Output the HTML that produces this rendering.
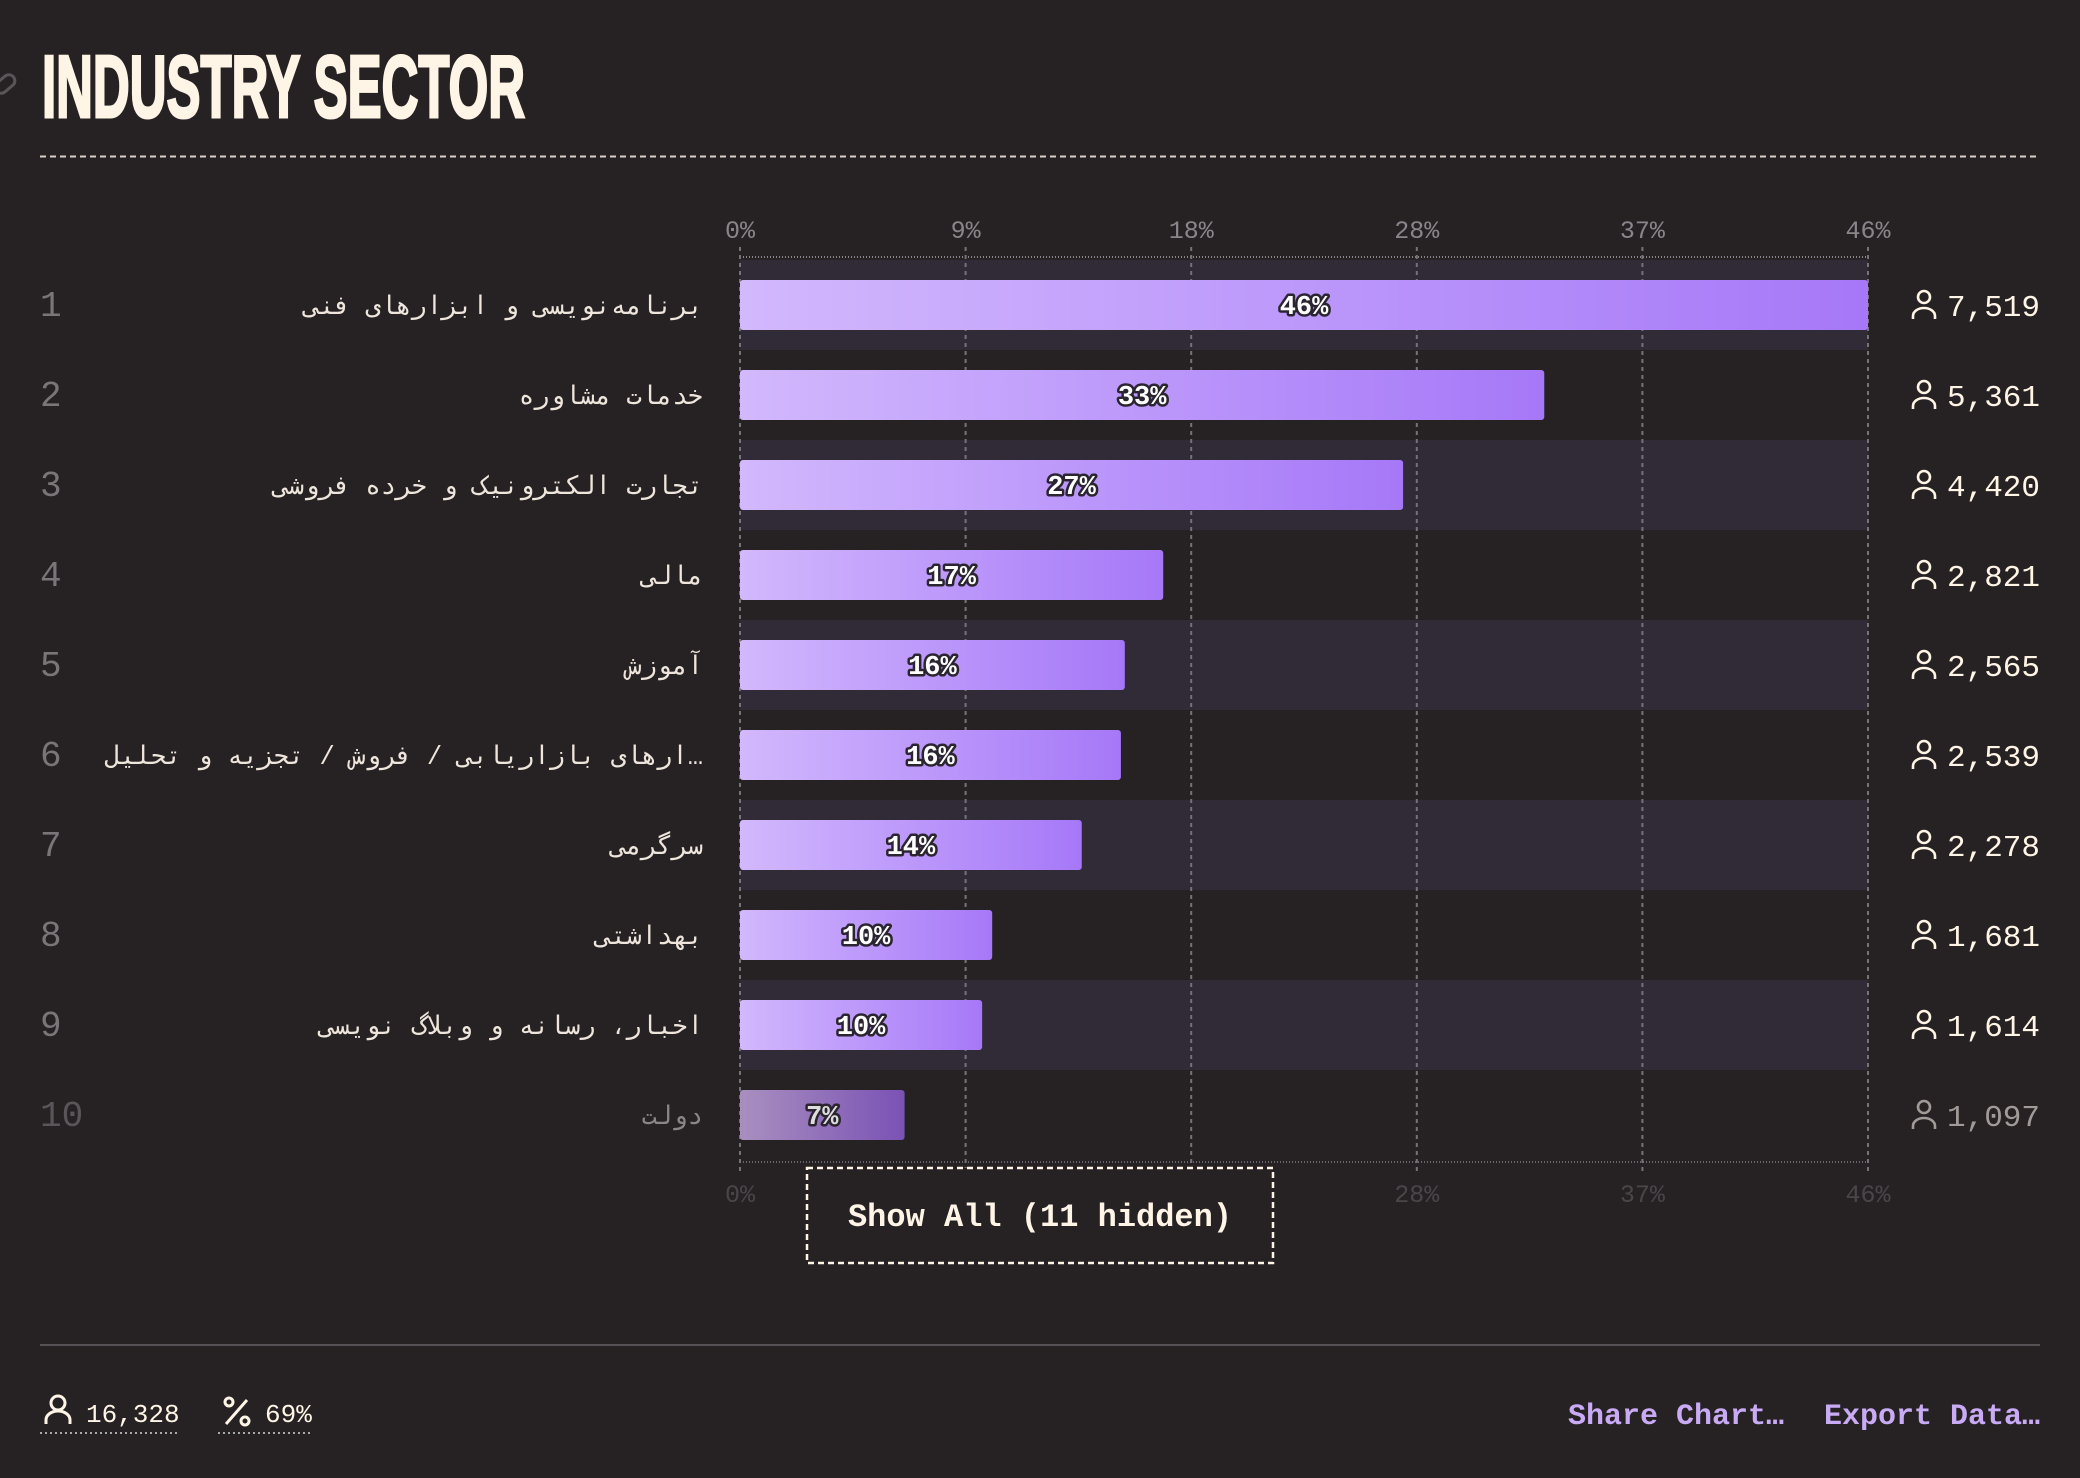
<!DOCTYPE html>
<html><head><meta charset="utf-8"><style>
html,body{margin:0;padding:0;background:#262224;}
svg{display:block;}
.mono{font-family:"Liberation Mono","DejaVu Sans Mono",monospace;}
</style></head><body>
<svg id="chart" width="2080" height="1478" viewBox="0 0 2080 1478" xmlns="http://www.w3.org/2000/svg">
<defs>
<linearGradient id="barGrad" x1="0" x2="1" y1="0" y2="0"><stop offset="0" stop-color="#d2b8fd"/><stop offset="1" stop-color="#a678f8"/></linearGradient>
<linearGradient id="barGradDim" x1="0" x2="1" y1="0" y2="0"><stop offset="0" stop-color="#a98fbf"/><stop offset="1" stop-color="#7a52b5"/></linearGradient>
</defs>
<rect x="0" y="0" width="2080" height="1478" fill="#262224"/>
<g fill="none" stroke="#5a5558" stroke-width="3"><rect x="-6" y="78" width="22" height="12" rx="6" transform="rotate(-40 5 84)"/></g>
<text x="42" y="117" font-family="'Liberation Sans Narrow','Liberation Sans',sans-serif" font-weight="bold" font-size="88" fill="#fff5e6" stroke="#fff5e6" stroke-width="3" textLength="483" lengthAdjust="spacingAndGlyphs">INDUSTRY SECTOR</text>
<line x1="40" y1="156.5" x2="2040" y2="156.5" stroke="#d8d0c8" stroke-width="2" stroke-dasharray="6,4"/>
<g id="stripes"></g>
<g id="grid"></g>
<g id="bars"></g>
<g id="rows"></g>
<g>
<rect x="807" y="1168" width="466" height="95" fill="#262224" stroke="#fff5e6" stroke-width="2.5" stroke-dasharray="6,4"/>
<text x="1040" y="1226" text-anchor="middle" class="mono" font-weight="bold" font-size="32" fill="#fff5e6">Show All (11 hidden)</text>
</g>
<line x1="40" y1="1345" x2="2040" y2="1345" stroke="#555154" stroke-width="2"/>
<g>
<circle cx="58" cy="1403" r="7" fill="none" stroke="#fff5e6" stroke-width="3"/>
<path d="M46 1424 v-4 a12 9 0 0 1 24 0 v4" fill="none" stroke="#fff5e6" stroke-width="3"/>
<text x="86" y="1422" class="mono" font-size="26" fill="#fff5e6">16,328</text>
<line x1="40" y1="1433" x2="178" y2="1433" stroke="#aaa" stroke-width="2" stroke-dasharray="2,3"/>
</g>
<g>
<circle cx="229" cy="1402" r="4" fill="none" stroke="#fff5e6" stroke-width="3"/>
<circle cx="245" cy="1421" r="4" fill="none" stroke="#fff5e6" stroke-width="3"/>
<line x1="226" y1="1424" x2="247" y2="1400" stroke="#fff5e6" stroke-width="3"/>
<text x="265" y="1422" class="mono" font-size="26" fill="#fff5e6">69%</text>
<line x1="218" y1="1433" x2="310" y2="1433" stroke="#aaa" stroke-width="2" stroke-dasharray="2,3"/>
</g>
<text x="1784" y="1424" text-anchor="end" class="mono" font-weight="bold" font-size="30" fill="#c9aaf5">Share Chart…</text>
<text x="2040" y="1424" text-anchor="end" class="mono" font-weight="bold" font-size="30" fill="#c9aaf5">Export Data…</text>
</svg>
<script>
const categories = ["برنامه‌نویسی و ابزارهای فنی","خدمات مشاوره","تجارت الکترونیک و خرده فروشی","مالی","آموزش","\u200F…ارهای بازاریابی / فروش / تجزیه و تحلیل","سرگرمی","بهداشتی","اخبار، رسانه و وبلاگ نویسی","دولت"];
const counts = [7519,5361,4420,2821,2565,2539,2278,1681,1614,1097];
const total = 16328;
const tickFractions = [0,0.2,0.4,0.6,0.8,1];

const NS = "http://www.w3.org/2000/svg";
const X0 = 740, X1 = 1868, ROW0 = 305, PITCH = 90, BARH = 50;
const maxPct = Math.max(...counts) / total * 100;
const xScale = p => X0 + (p / maxPct) * (X1 - X0);
const yScale = i => ROW0 + i * PITCH;
function mk(tag, attrs, parent, txt){const e=document.createElementNS(NS,tag);for(const k in attrs)e.setAttribute(k,attrs[k]);if(txt!==undefined)e.textContent=txt;parent.appendChild(e);return e;}
const stripesG=document.getElementById('stripes'), gridG=document.getElementById('grid'), barsG=document.getElementById('bars'), rowsG=document.getElementById('rows');
const nRows = categories.length;
const axisTop = yScale(0) - 48, axisBottom = yScale(nRows-1) + 47;
categories.forEach((c,i)=>{ if(i%2===0){const s=mk('rect',{x:X0,y:yScale(i)-45,width:X1-X0,height:90,fill:'#302b37'},stripesG);

}});
mk('line',{x1:X0,y1:axisTop,x2:X1,y2:axisTop,stroke:'#8a858a','stroke-width':2,'stroke-dasharray':'1,2'},gridG);
mk('line',{x1:X0,y1:axisBottom,x2:X1,y2:axisBottom,stroke:'#6a656a','stroke-width':2,'stroke-dasharray':'1,2'},gridG);
tickFractions.forEach(f=>{
  const p=f*maxPct, x=xScale(p), lab=Math.round(p)+'%';
  const l=mk('line',{x1:x,y1:axisTop-10,x2:x,y2:axisBottom+10,stroke:'#77727a','stroke-width':2,'stroke-dasharray':'4,4'},gridG);
  
  
  const t=mk('text',{x:x,y:238,'text-anchor':'middle','font-family':'Liberation Mono,monospace','font-size':25,fill:'#8a858a'},gridG,lab);
  
  
  const b=mk('text',{x:x,y:1202,'text-anchor':'middle','font-family':'Liberation Mono,monospace','font-size':25,fill:'#4a4549'},gridG,lab);
  
  
});
categories.forEach((c,i)=>{
  const y=yScale(i), pct=counts[i]/total*100, dim=i===nRows-1;
  const r=mk('rect',{x:X0,y:y-BARH/2,width:xScale(pct)-X0,height:BARH,rx:3,fill:dim?'url(#barGradDim)':'url(#barGrad)'},barsG);
  
  
  const t=mk('text',{x:(X0+xScale(pct))/2,y:y+9,'text-anchor':'middle','font-family':'Liberation Mono,monospace','font-weight':'bold','font-size':27,fill:dim?'#ddd':'#fff',stroke:'#2a2530','stroke-width':5,'paint-order':'stroke','stroke-linejoin':'round'},barsG,Math.round(pct)+'%');
  
  
  const rk=mk('text',{x:40,y:y+11,'font-family':'Liberation Mono,monospace','font-size':36,fill:dim?'#5a5558':'#7a7578'},rowsG,String(i+1));
  
  
  const lb=mk('text',{x:703,y:y+9,'text-anchor':'end','font-family':'Liberation Mono,DejaVu Sans Mono,Noto Sans CJK SC,monospace','font-size':25.5,fill:dim?'#8a8588':'#eee6dc'},rowsG,c);
  
  
  const col=dim?'#a09a98':'#fff5e6';
  const ic=mk('g',{fill:'none',stroke:col,'stroke-width':2.6},rowsG);
  
  
  mk('circle',{cx:1924,cy:y-8,r:6},ic);
  mk('path',{d:`M1913 ${y+14} v-3 a11 8 0 0 1 22 0 v3`},ic);
  const ct=mk('text',{x:2040,y:y+11,'text-anchor':'end','font-family':'Liberation Mono,monospace','font-size':31,fill:col},rowsG,counts[i].toLocaleString('en-US'));
  
  
});
</script>
</body></html>
